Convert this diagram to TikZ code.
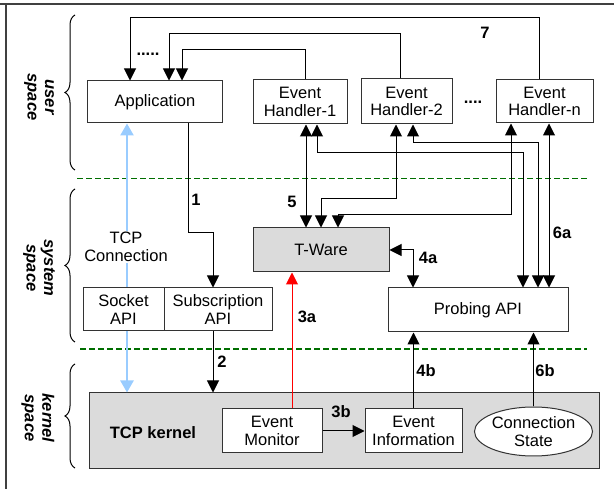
\documentclass[tikz,border=0pt]{standalone}
\usepackage{fontspec}
\setmainfont{Liberation Sans}
\usetikzlibrary{arrows.meta,decorations.pathreplacing,shapes.geometric}

\definecolor{tcpblue}{RGB}{153,204,255}
\definecolor{sepgreen}{RGB}{0,110,0}

\begin{document}
\begin{tikzpicture}[x=1pt,y=-1pt,
    font=\fontsize{16.5}{17.5}\selectfont,
    box/.style={draw=black!80, fill=white, line width=1pt, align=center, inner sep=0pt},
    graybox/.style={box, fill=black!14},
    tip/.style={-{Triangle[length=12pt,width=12pt]}, line width=1pt},
    dbl/.style={{Triangle[length=12pt,width=12pt]}-{Triangle[length=12pt,width=12pt]}, line width=1pt},
    num/.style={font=\fontsize{16.5}{17.5}\selectfont\bfseries},
    spacelbl/.style={rotate=-90, align=center, font=\fontsize{16.5}{17.5}\selectfont\bfseries\itshape},
    sep/.style={sepgreen, dash pattern=on 6pt off 3pt, line width=1.3pt},
    brc/.style={decorate, decoration={brace, amplitude=10pt}, line width=1pt}]
    \useasboundingbox (0,0) rectangle (614,489);

    % frame
    \draw[line width=1.5pt, black!75] (0,4) -- (614,4);
    \draw[line width=1.5pt, black!75] (6,4) -- (6,489);

    % spaces
    \draw[sep] (77,178.5) -- (588,178.5);
    \draw[sep] (80,349) -- (587,349);
    \draw[brc] (75,170) -- (75,15);
    \draw[brc] (75,342) -- (75,189);
    \draw[brc] (75,468) -- (75,364);
    \node[spacelbl] (userlbl) at (39,97) {user\\space};
    \node[spacelbl] (syslbl) at (39,268) {system\\space};
    \node[spacelbl] (kernlbl) at (38,418) {kernel\\space};

    % user space
    \node[box, minimum width=135, minimum height=42] (app) at (155,102) {Application};
    \node[box, minimum width=94, minimum height=44] (eh1) at (300,102) {Event\\Handler-1};
    \node[box, minimum width=91, minimum height=45] (eh2) at (406.5,101.5) {Event\\Handler-2};
    \node[box, minimum width=97, minimum height=43] (ehn) at (544.5,101.5) {Event\\Handler-n};
    \node[num] (dotsa) at (148,54) {.....};
    \node[num] (dotsb) at (473,102) {....};

    % kernel space
    \node[graybox, minimum width=510, minimum height=75] (kernel) at (344,430.5) {};
    \node[num] (tcplbl) at (153,433) {TCP kernel};
    \node[box, minimum width=100, minimum height=44] (evmon) at (272,431) {Event\\Monitor};
    \node[box, minimum width=97, minimum height=44] (evinfo) at (413.5,431) {Event\\Information};
    \node[box, ellipse, minimum width=107, minimum height=49] (cstate) at (533.5,431.5) {Connection\\State};

    % TCP connection
    \draw[{Triangle[length=12pt,width=13pt]}-{Triangle[length=12pt,width=13pt]}, tcpblue, line width=2.5pt]
        ([xshift=-28]app.south) -- ([xshift=-28]app.south |- kernel.north);
    \node[fill=white, align=center, inner sep=1pt] (tcpc) at (126,247) {TCP\\Connection};

    % system space
    \node[box, minimum width=81, minimum height=43] (sock) at (123.5,309.5) {Socket\\API};
    \node[box, minimum width=108, minimum height=43] (subs) at (218,309.5) {Subscription\\API};
    \node[graybox, minimum width=136, minimum height=44] (tware) at (321,250) {T-Ware};
    \node[box, minimum width=180, minimum height=44] (probe) at (478,310) {Probing API};

    % 7: handlers back to the application
    \draw[tip] ([xshift=-5.5]ehn.north) -- ++(0,-62) -| ([xshift=-25]app.north);
    \draw[tip] ([xshift=-6.5]eh2.north) -- ++(0,-45) -| ([xshift=14]app.north);
    \draw[tip] ([xshift=5]eh1.north) -- ++(0,-30) -| ([xshift=27]app.north);
    \node[num] (n7) at (485,33) {7};

    % 1, 2: subscription
    \draw[tip] ([xshift=33]app.south) -- ++(0,109) -| ([xshift=-5]subs.north);
    \node[num] (n1) at (196,200) {1};
    \draw[tip] ([xshift=-5]subs.south) -- ([xshift=-5]subs.south |- kernel.north);
    \node[num] (n2) at (222,362) {2};

    % 3a, 3b: event monitor
    \draw[tip, red] ([xshift=20]evmon.north) -- ([xshift=20]evmon.north |- tware.south);
    \node[num] (n3a) at (307,317) {3a};
    \draw[tip] (evmon.east) -- (evinfo.west);
    \node[num] (n3b) at (341,412) {3b};

    % 4a, 4b: probing
    \draw[dbl] (tware.east) -| ([xshift=-65]probe.north);
    \node[num] (n4a) at (428,258) {4a};
    \draw[tip] (evinfo.north) -- (evinfo.north |- probe.south);
    \node[num] (n4b) at (426,371) {4b};

    % 5, 6a: handlers to T-Ware and probing API
    \draw[dbl] ([xshift=6]eh1.south) -- ([xshift=6]eh1.south |- tware.north);
    \draw[dbl] ([xshift=17]eh1.south) -- ++(0,28) -| ([xshift=45]probe.north);
    \draw[dbl] ([xshift=-10.5]eh2.south) -- ++(0,74) -| (tware.north);
    \draw[dbl] ([xshift=6.5]eh2.south) -- ++(0,18) -| ([xshift=60]probe.north);
    \draw[dbl] ([xshift=-33.5]ehn.south) -- ++(0,91) -| ([xshift=17]tware.north);
    \draw[dbl] ([xshift=4.5]ehn.south) -- ([xshift=4.5]ehn.south |- probe.north);
    \node[num] (n5) at (292,202) {5};
    \node[num] (n6a) at (562,233) {6a};

    % 6b: connection state
    \draw[tip] (cstate.north) -- (cstate.north |- probe.south);
    \node[num] (n6b) at (545,371) {6b};
\end{tikzpicture}
\end{document}
